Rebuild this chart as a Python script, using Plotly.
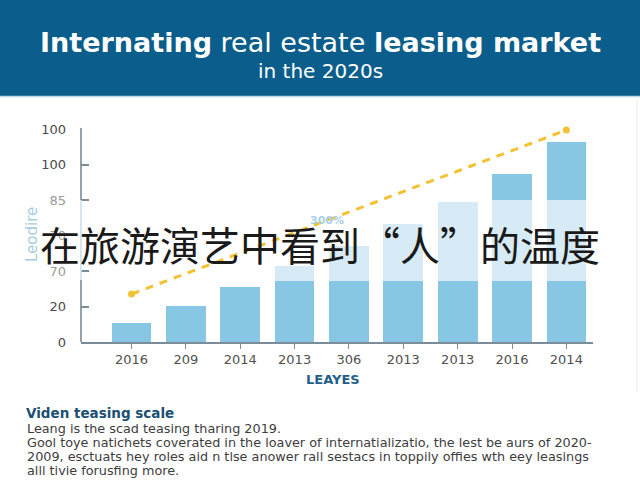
import plotly.graph_objects as go

# ---- data ----
categories = ["2016", "209", "2014", "2013", "306", "2013", "2013", "2016", "2014"]
base_values = [10.5, 20.5, 30.8, 34.4, 34.4, 34.4, 34.4, 34.4, 34.4]
mid_values = [0, 0, 0, 8.4, 19.6, 31.9, 44.6, 45.6, 45.6]
top_values = [0, 0, 0, 0, 0, 0, 0, 14.5, 32.8]
trend_x = [0, 8]
trend_y = [27.0, 119.4]
y_tick_vals = [0, 20, 40, 60, 80, 100, 120]
y_tick_text = ["0", "20", "70", "70", "85", "100", "100"]
y_tick_colors = ["#4a4a4a", "#4a4a4a", "#9a9a9a", "#9a9a9a", "#9a9a9a", "#4a4a4a", "#4a4a4a"]
title_main = "<b>Internating</b> real estate <b>leasing market</b>"
title_sub = "in the 2020s"
overlay_text = "在旅游演艺中看到“人”的温度"
note_title = "Viden teasing scale"
note_lines = [
    "Leang is the scad teasing tharing 2019.",
    "Gool toye natichets coverated in the loaver of internatializatio, the lest be aurs of 2020-",
    "2009, esctuats hey roles aid n tlse anower rall sestacs in toppily offies wth eey leasings",
    "alll tivie forusfing more.",
]

DARK = "#88c7e4"
LIGHT = "#d6ebf5"
GOLD = "#f3c232"

W, H = 640, 480
L, R, T, B = 81, 47, 128, 138
PW, PH = W - L - R, H - T - B


def px(xp):
    return (xp - L) / PW


def py(yp):
    return (H - B - yp) / PH


fig = go.Figure()
bw = 0.73
fig.add_bar(x=list(range(len(categories))), y=base_values, width=bw,
            marker=dict(color=DARK, line=dict(width=0)), hoverinfo="skip")
fig.add_bar(x=list(range(len(categories))), y=mid_values, width=bw,
            marker=dict(color=LIGHT, line=dict(width=0)), hoverinfo="skip")
fig.add_bar(x=list(range(len(categories))), y=top_values, width=bw,
            marker=dict(color=DARK, line=dict(width=0)), hoverinfo="skip")
fig.add_scatter(x=trend_x, y=trend_y, mode="lines+markers",
                line=dict(color=GOLD, width=3, dash="8px,7px"),
                marker=dict(color=GOLD, size=7), cliponaxis=False, hoverinfo="skip")

ticktext_y = [f"<span style='color:{c}'>{t}</span>" for t, c in zip(y_tick_text, y_tick_colors)]

shapes = [
    # header band
    dict(type="rect", xref="paper", yref="paper", x0=px(0), x1=px(W), y0=py(96), y1=py(0),
         fillcolor="#0b5e8b", line=dict(width=0), layer="below"),
    dict(type="line", xref="paper", yref="paper", x0=px(0), x1=px(W), y0=py(96.5), y1=py(96.5),
         line=dict(color="#b8dbe9", width=1.5)),
    # y axis line, multi-tone as in the reference
    dict(type="line", xref="paper", yref="y", x0=0, x1=0, y0=0, y1=35,
         line=dict(color="#6f8492", width=1.5)),
    dict(type="line", xref="paper", yref="y", x0=0, x1=0, y0=35, y1=80,
         line=dict(color="#c6dfeb", width=1.5)),
    dict(type="line", xref="paper", yref="y", x0=0, x1=0, y0=80, y1=120.5,
         line=dict(color="#6f8492", width=1.5)),
    # faint right frame
    dict(type="line", xref="paper", yref="paper", x0=px(637), x1=px(637), y0=py(392), y1=py(100),
         line=dict(color="#ececec", width=1)),
]

annotations = [
    dict(xref="paper", yref="paper", x=px(320), y=py(43), text=title_main, showarrow=False,
         font=dict(family="DejaVu Sans", size=27, color="white"), xanchor="center", yanchor="middle"),
    dict(xref="paper", yref="paper", x=px(320), y=py(71), text=title_sub, showarrow=False,
         font=dict(family="DejaVu Sans", size=20, color="white"), xanchor="center", yanchor="middle"),
    dict(xref="paper", yref="paper", x=px(32), y=py(235), text="Leodire", textangle=-90, showarrow=False,
         font=dict(family="DejaVu Sans", size=15, color="#a9cde0"), xanchor="center", yanchor="middle"),
    dict(xref="paper", yref="paper", x=px(333), y=py(379), text="<b>LEAYES</b>", showarrow=False,
         font=dict(family="DejaVu Sans", size=13, color="#1f5f8b"), xanchor="center", yanchor="middle"),
    dict(xref="x", yref="y", x=3.6, y=68.2, text="<b>300%</b>", showarrow=False,
         font=dict(family="DejaVu Sans", size=11, color="#a9d0e4"), xanchor="center", yanchor="middle"),
    dict(xref="x", yref="y", x=8.0, y=127.9, text="<b>2000%</b>", showarrow=False,
         font=dict(family="DejaVu Sans", size=12, color="#1d5a82"), xanchor="center", yanchor="middle"),
    dict(xref="paper", yref="paper", x=px(24), y=py(413), text=f"<b>{note_title}</b>", showarrow=False,
         font=dict(family="DejaVu Sans", size=13.5, color="#1c4f73"), xanchor="left", yanchor="middle"),
    dict(xref="paper", yref="paper", x=px(320), y=py(244), text=overlay_text, showarrow=False,
         font=dict(family="Noto Sans CJK SC", size=40, color="#1a1a1a"), xanchor="center", yanchor="middle"),
]
for i, line in enumerate(note_lines):
    annotations.append(dict(xref="paper", yref="paper", x=px(25), y=py(428.5 + 14 * i), text=line,
                            showarrow=False, xanchor="left", yanchor="middle",
                            font=dict(family="DejaVu Sans", size=12.8, color="#3d3d3d")))

fig.update_layout(
    width=W, height=H,
    margin=dict(l=L, r=R, t=T, b=B, pad=0),
    paper_bgcolor="white", plot_bgcolor="white",
    barmode="stack", bargap=0, showlegend=False,
    xaxis=dict(range=[-0.93, 8.49], tickvals=list(range(len(categories))), ticktext=categories,
               showline=True, linecolor="#7b8d99", linewidth=1.5, ticks="outside", ticklen=5,
               tickcolor="#7b8d99", showgrid=False, zeroline=False,
               tickfont=dict(family="DejaVu Sans", size=13, color="#505050"), fixedrange=True),
    yaxis=dict(range=[0, PH / 35.5 * 20], tickvals=y_tick_vals, ticktext=ticktext_y,
               showline=False, ticks="inside", ticklen=8, tickcolor="#7b8d99", tickwidth=1.5,
               showgrid=False, zeroline=False, ticklabelstandoff=14,
               tickfont=dict(family="DejaVu Sans", size=13, color="#4a4a4a"), fixedrange=True),
    shapes=shapes, annotations=annotations,
)

fig.write_html("out.html", config={"displayModeBar": False},
               post_script="document.body.style.margin='0';document.body.style.overflow='hidden';")
